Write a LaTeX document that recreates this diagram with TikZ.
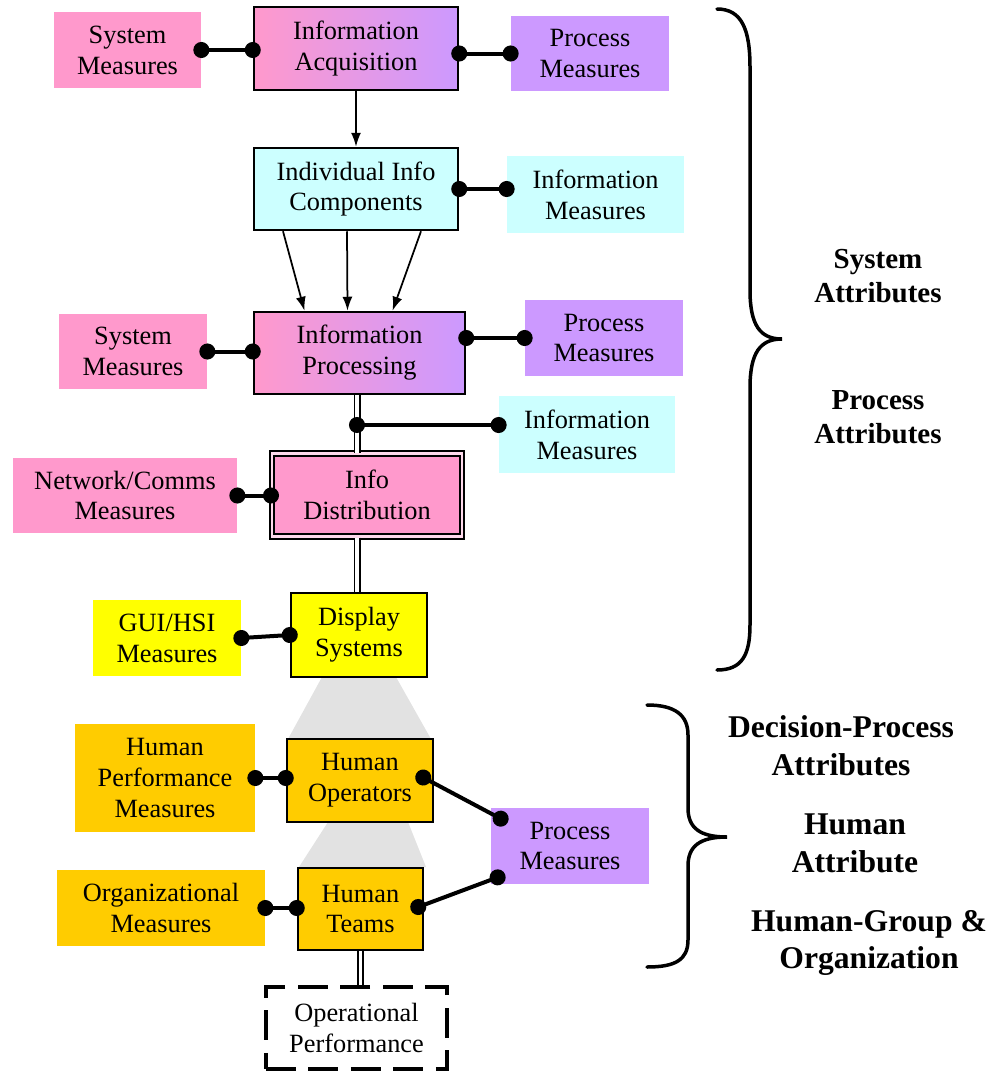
\documentclass[tikz,border=0pt]{standalone}
\usepackage{fontspec}
\setmainfont{Liberation Serif}
\usetikzlibrary{arrows.meta}
\definecolor{pinkm}{HTML}{FF99CC}
\definecolor{purplem}{HTML}{CC99FF}
\definecolor{cyanm}{HTML}{CCFFFF}
\definecolor{yellowm}{HTML}{FFFF00}
\definecolor{orangem}{HTML}{FFCC00}
\definecolor{pinklt}{HTML}{FFD9EC}
\definecolor{grayfun}{HTML}{E2E2E2}
\tikzset{
  sz/.style 2 args={minimum width=#1*0.02cm, minimum height=#2*0.02cm},
  txt/.style={align=center, font=\fontsize{15pt}{17.6pt}\selectfont, inner sep=1pt},
  meas/.style={txt, fill=#1},
  blk/.style={txt, draw, line width=0.05cm, fill=#1},
  grad/.style={txt, draw, line width=0.05cm, left color=pinkm, right color=purplem},
  link/.style={line width=0.08cm, {Circle[length=0.32cm]}-{Circle[length=0.32cm]},
    shorten <=-0.16cm, shorten >=-0.16cm},
  flow/.style={line width=0.035cm, -{Latex[length=0.28cm,width=0.2cm]}},
  dbl/.style={double, line width=0.035cm, double distance=0.07cm},
  brace/.style={line width=0.07cm, line cap=round},
  attr/.style={align=center, font=\bfseries\fontsize{16.5pt}{19.5pt}\selectfont},
  attrb/.style={align=center, font=\bfseries\fontsize{18pt}{21.5pt}\selectfont},
}
\begin{document}
\begin{tikzpicture}[x=0.02cm, y=-0.02cm]
\useasboundingbox (0,0) rectangle (995,1072);

% funnels between the lower blocks
\fill[grayfun] (322,677) -- (396,677) -- (431,739) -- (288,739) -- cycle;
\fill[grayfun] (328,822) -- (408,822) -- (426,867) -- (299,867) -- cycle;

% system chain
\node[meas=pinkm, sz={147}{76}] (sysA) at (127.5,50) {System\\Measures};
\node[grad, sz={204}{83}] (acq) at (356,48.5) {Information\\Acquisition};
\node[meas=purplem, sz={158}{75}] (procA) at (590,53.5) {Process\\Measures};
\node[blk=cyanm, sz={204}{82}] (ind) at (356,189) {Individual Info\\Components};
\node[meas=cyanm, sz={177}{77}] (infoA) at (595.5,194.5) {Information\\Measures};
\node[meas=pinkm, sz={148}{75}] (sysB) at (133,351.5) {System\\Measures};
\node[grad, sz={211}{82}] (proc) at (359.5,353) {Information\\Processing};
\node[meas=purplem, sz={158}{76}] (procB) at (604,338) {Process\\Measures};
\node[meas=cyanm, sz={176}{77}] (infoB) at (587,434.5) {Information\\Measures};
\node[txt, fill=pinkm, draw, double=pinklt, line width=0.04cm, double distance=0.05cm,
  sz={190}{83}] (dist) at (367,495) {Info\\Distribution};
\node[meas=pinkm, sz={224}{75}] (net) at (125,495.5) {Network/Comms\\Measures};
\node[meas=yellowm, sz={148}{76}] (gui) at (167,638) {GUI/HSI\\Measures};
\node[blk=yellowm, sz={136}{84}] (disp) at (359,635) {Display\\Systems};

% human chain
\node[meas=orangem, sz={180}{108}] (hpm) at (165,778) {Human\\Performance\\Measures};
\node[blk=orangem, sz={146}{83}] (hop) at (360,780.5) {Human\\Operators};
\node[meas=purplem, sz={158}{76}] (procC) at (570,846) {Process\\Measures};
\node[meas=orangem, sz={208}{76}] (org) at (161,908) {Organizational\\Measures};
\node[blk=orangem, sz={125}{82}] (team) at (360.5,909) {Human\\Teams};
\node[txt, draw, fill=white, line width=0.065cm, dash pattern=on 0.6cm off 0.25cm,
  sz={181}{82}] (oper) at (356.5,1028) {Operational\\Performance};

% flow
\draw[flow] (acq.south) -- (ind.north);
\foreach \a/\b in {-73/-55, -9/-12, 65/33}
  \draw[flow] ([shift={(\a,0)}]ind.south) -- ([shift={(\b,0)}]proc.north);

\coordinate (jn) at (357,425);
\draw[dbl] (proc.south -| jn) -- (dist.north -| jn);
\draw[dbl] (dist.south -| jn) -- (disp.north -| jn);
\draw[dbl] (team.south) -- (team.south |- oper.north);

% measures
\draw[link] (sysA.east) -- (sysA.east -| acq.west);
\draw[link] (procA.west -| acq.east) -- (procA.west);
\draw[link] (ind.east) -- (ind.east -| infoA.west);
\draw[link] (sysB.east) -- (sysB.east -| proc.west);
\draw[link] (procB.west -| proc.east) -- (procB.west);
\draw[link] (jn) -- (jn -| infoB.west);
\draw[link] (net.east) -- (net.east -| dist.west);
\draw[link] (gui.east) -- (disp.west);
\draw[link] (hpm.east) -- (hpm.east -| hop.west);
\draw[link] ([shift={(-11,-3)}]hop.east) -- ([shift={(10,11)}]procC.north west);
\draw[link] (org.east) -- (org.east -| team.west);
\draw[link] ([shift={(-6,-2)}]team.east) -- ([shift={(7,-7)}]procC.south west);

% braces
\draw[brace] (717,9) .. controls (742,9) and (750,30) .. (750,67) -- (750,290)
  .. controls (750,325) and (760,339) .. (782,339)
  .. controls (760,339) and (750,353) .. (750,388) -- (750,625)
  .. controls (750,655) and (742,670) .. (717,670);
\draw[brace] (647,705) .. controls (675,705) and (688,715) .. (688,735) -- (688,808)
  .. controls (688,828) and (700,837) .. (727,837)
  .. controls (700,837) and (688,846) .. (688,866) -- (688,940)
  .. controls (688,960) and (675,967) .. (647,967);

\node[attr] (sysat) at (878,276) {System\\Attributes};
\node[attr] (procat) at (878,417) {Process\\Attributes};
\node[attrb] (decat) at (841,746) {Decision-Process\\Attributes};
\node[attrb] (humat) at (855,843) {Human\\Attribute};
\node[attrb] (grpat) at (869,943) {Human-Group \&\\Organization};
\end{tikzpicture}
\end{document}
